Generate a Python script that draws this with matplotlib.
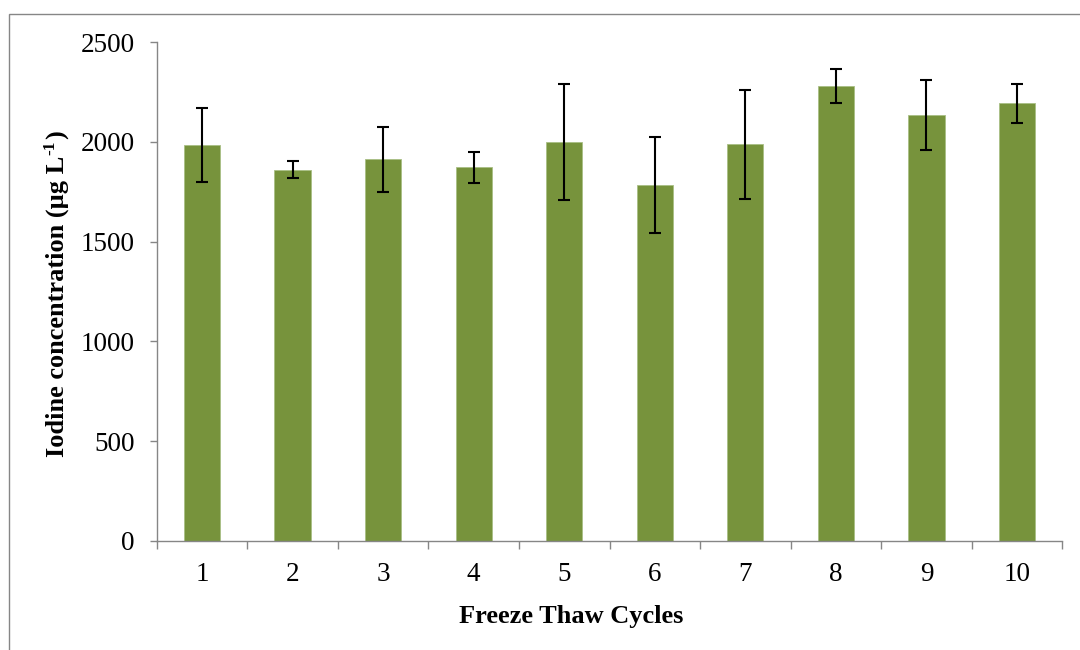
import matplotlib
matplotlib.use("Agg")
import matplotlib.pyplot as plt
from matplotlib.patches import Rectangle
import numpy as np

cycles = ["1", "2", "3", "4", "5", "6", "7", "8", "9", "10"]
iodine = [1983, 1861, 1913, 1873, 2001, 1783, 1988, 2282, 2135, 2194]
errors = [185, 43, 163, 77, 291, 241, 272, 86, 176, 99]
yticks = [0, 500, 1000, 1500, 2000, 2500]

plt.rcParams['font.family'] = ['Liberation Serif', 'DejaVu Serif']

W, H = 1080, 650
fig = plt.figure(figsize=(10.8, 6.5), dpi=100)
fig.patches.append(Rectangle((8.5/W, -0.1), 1.2, (H-13.5)/H + 0.1,
                             transform=fig.transFigure, fill=False,
                             edgecolor='#868686', linewidth=1.0))

ax = fig.add_axes([156.7/W, 109.3/H, (1062.3-156.7)/W, (540.7-42.3)/H])
x = np.arange(len(cycles))
ax.bar(x, iodine, width=0.4, color='#77933C', edgecolor='#a9bf85', linewidth=0.6, zorder=2)
ax.errorbar(x, iodine, yerr=errors, fmt='none', ecolor='black',
            elinewidth=1.5, capsize=4.5, capthick=1.5, zorder=3)

ax.set_xlim(-0.5, len(cycles) - 0.5)
ax.set_ylim(0, 2500)
ax.set_yticks(yticks)
ax.set_yticklabels([str(v) for v in yticks])

ax.set_xticks(np.arange(len(cycles) + 1) - 0.5)
ax.set_xticklabels([])
ax.set_xticks(x, minor=True)
ax.set_xticklabels(cycles, minor=True)
ax.tick_params(axis='x', which='major', direction='out', length=5.5, width=1.0, color='#868686')
ax.tick_params(axis='x', which='minor', length=0, pad=15, labelsize=19.5)
ax.tick_params(axis='y', direction='out', length=5, width=1.0, color='#868686', pad=11, labelsize=19.5)

for s in ['top', 'right']:
    ax.spines[s].set_visible(False)
for s in ['left', 'bottom']:
    ax.spines[s].set_color('#868686')
    ax.spines[s].set_linewidth(1.0)

fig.text(571/W, 1 - 617/H, 'Freeze Thaw Cycles', ha='center', va='center',
         fontsize=19, fontweight='bold')

# y label with superscript, composed of pieces
ylab_fs = 19
xb = 64/W
t1 = fig.text(xb, 1 - 457/H, 'Iodine concentration (µg L', rotation=90,
              rotation_mode='anchor', ha='left', va='baseline',
              fontsize=ylab_fs, fontweight='bold')
fig.canvas.draw()
r = fig.canvas.get_renderer()
bb = t1.get_window_extent(r)
t2 = fig.text(xb - 9.5/W, (bb.y1 + 1)/H, '-1', rotation=90, rotation_mode='anchor',
              ha='left', va='baseline', fontsize=ylab_fs*0.65, fontweight='bold')
bb2 = t2.get_window_extent(r)
fig.text(xb, (bb2.y1 + 1)/H, ')', rotation=90, rotation_mode='anchor',
         ha='left', va='baseline', fontsize=ylab_fs, fontweight='bold')

fig.savefig('out.png', dpi=100, facecolor='white')
